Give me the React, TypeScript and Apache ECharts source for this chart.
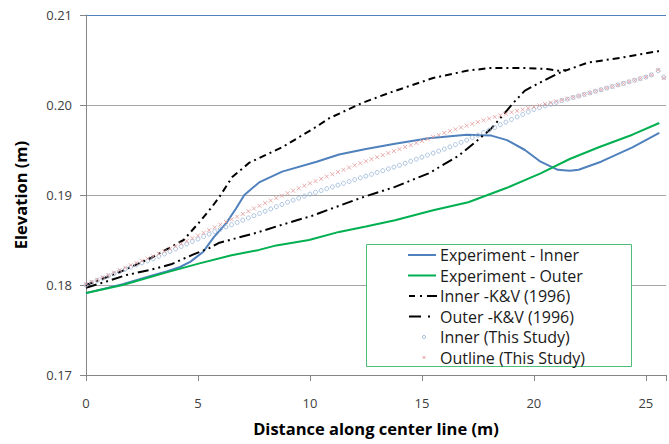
import React, { useEffect, useRef } from "react";
import * as echarts from "echarts";

const xTicks = [0, 5, 10, 15, 20, 25];
const yTicks = [0.17, 0.18, 0.19, 0.2, 0.21];

const expInner: number[][] = [
  [0, 0.1791], [1.64, 0.1801], [3.0, 0.1811], [3.6, 0.1815], [4.2, 0.182], [4.67, 0.1826],
  [5.24, 0.1837], [5.7, 0.1853], [6.27, 0.1869], [6.7, 0.1885], [7.07, 0.19], [7.73, 0.1914],
  [8.76, 0.1926], [10.3, 0.1937], [11.3, 0.1945], [12.5, 0.1951], [13.8, 0.1957], [15.3, 0.1963],
  [17.0, 0.1967], [18.1, 0.1966], [18.8, 0.1961], [19.6, 0.195], [20.3, 0.1937], [21.07, 0.1928],
  [21.6, 0.1927], [22.0, 0.1928], [23.0, 0.1937], [24.4, 0.1953], [25.6, 0.1969],
];

const expOuter: number[][] = [
  [0, 0.1791], [1.64, 0.18], [3.6, 0.1814], [5.07, 0.1824], [6.5, 0.1833], [7.73, 0.1839],
  [8.5, 0.1844], [9.96, 0.185], [11.3, 0.1859], [12.5, 0.1865], [13.8, 0.1872], [15.5, 0.1883],
  [17.07, 0.1892], [18.8, 0.1908], [20.3, 0.1924], [21.6, 0.194], [22.9, 0.1953], [24.4, 0.1967],
  [25.6, 0.198],
];

const innerKV: number[][] = [
  [0, 0.18], [1.38, 0.1813], [2.9, 0.183], [4.36, 0.185], [5.07, 0.187], [5.6, 0.1886],
  [5.96, 0.1898], [6.53, 0.192], [7.3, 0.1936], [8.76, 0.1953], [10.3, 0.1976], [10.84, 0.1985],
  [12.3, 0.2002], [13.6, 0.2014], [15.5, 0.203], [17.0, 0.2038], [18.0, 0.2041], [19.6, 0.2041],
  [20.6, 0.204], [21.1, 0.2038], [21.5, 0.2039], [22.4, 0.2047], [24.0, 0.2053], [25.6, 0.206],
];

const outerKV: number[][] = [
  [0, 0.1797], [0.8, 0.1803], [1.8, 0.1811], [2.9, 0.1817], [3.8, 0.1823], [4.8, 0.1834],
  [5.5, 0.1841], [5.96, 0.1847], [7.6, 0.1858], [8.76, 0.1867], [10.1, 0.1877], [11.2, 0.1887],
  [12.3, 0.1897], [13.8, 0.1909], [15.3, 0.1924], [16.6, 0.1943], [17.4, 0.1959], [18.1, 0.1974],
  [18.8, 0.1994], [19.07, 0.2002], [19.6, 0.2016], [20.2, 0.2024], [21.07, 0.2035], [21.5, 0.2039],
];

const studyX = [
  0, 0.25, 0.5, 0.75, 1, 1.25, 1.5, 1.75, 2, 2.25, 2.5, 2.75, 3, 3.25, 3.5, 3.75, 4, 4.25, 4.5, 4.75,
  5, 5.25, 5.5, 5.75, 6, 6.25, 6.5, 6.75, 7, 7.25, 7.5, 7.75, 8, 8.25, 8.5, 8.75, 9, 9.25, 9.5, 9.75,
  10, 10.25, 10.5, 10.75, 11, 11.25, 11.5, 11.75, 12, 12.25, 12.5, 12.75, 13, 13.25, 13.5, 13.75,
  14, 14.25, 14.5, 14.75, 15, 15.25, 15.5, 15.75, 16, 16.25, 16.5, 16.75, 17, 17.25, 17.5, 17.75,
  18, 18.25, 18.5, 18.75, 19, 19.25, 19.5, 19.75, 20, 20.25, 20.5, 20.75, 21, 21.25, 21.5, 21.75,
  22, 22.25, 22.5, 22.75, 23, 23.25, 23.5, 23.75, 24, 24.25, 24.5, 24.75, 25, 25.25, 25.55, 25.8, 25.95,
];

const outlineStudyY = [
  0.1801, 0.18035, 0.1806, 0.18085, 0.1811, 0.18138, 0.18165, 0.18193, 0.1822, 0.18245, 0.1827, 0.18295,
  0.1832, 0.18348, 0.18375, 0.18403, 0.1843, 0.1846, 0.1849, 0.1852, 0.1855, 0.1858, 0.1861, 0.1864,
  0.1867, 0.187, 0.1873, 0.1876, 0.1879, 0.1882, 0.1885, 0.1888, 0.1891, 0.18938, 0.18965, 0.18993,
  0.1902, 0.19048, 0.19075, 0.19103, 0.1913, 0.19155, 0.1918, 0.19205, 0.1923, 0.19255, 0.1928, 0.19305,
  0.1933, 0.19353, 0.19375, 0.19398, 0.1942, 0.19443, 0.19465, 0.19488, 0.1951, 0.19533, 0.19555, 0.19578,
  0.196, 0.19623, 0.19645, 0.19668, 0.1969, 0.1971, 0.1973, 0.1975, 0.1977, 0.1979, 0.1981, 0.1983,
  0.1985, 0.19868, 0.19885, 0.19903, 0.1992, 0.19935, 0.1995, 0.19965, 0.1998, 0.19995, 0.2001, 0.20025,
  0.2004, 0.20055, 0.2007, 0.20085, 0.201, 0.20118, 0.20135, 0.20153, 0.2017, 0.20188, 0.20205, 0.20223,
  0.2024, 0.20258, 0.20275, 0.20293, 0.2031, 0.20335, 0.2039, 0.203, 0.2037,
];

const innerStudyY = [
  0.18, 0.18025, 0.1805, 0.18075, 0.181, 0.18125, 0.1815, 0.18175, 0.182, 0.18223, 0.18245, 0.18268,
  0.1829, 0.18318, 0.18345, 0.18373, 0.184, 0.18428, 0.18455, 0.18483, 0.1851, 0.18538, 0.18565, 0.18593,
  0.1862, 0.18645, 0.1867, 0.18695, 0.1872, 0.18745, 0.1877, 0.18795, 0.1882, 0.18845, 0.1887, 0.18895,
  0.1892, 0.18943, 0.18965, 0.18988, 0.1901, 0.1903, 0.1905, 0.1907, 0.1909, 0.1911, 0.1913, 0.1915,
  0.1917, 0.1919, 0.1921, 0.1923, 0.1925, 0.1927, 0.1929, 0.1931, 0.1933, 0.19353, 0.19375, 0.19398,
  0.1942, 0.19443, 0.19465, 0.19488, 0.1951, 0.19535, 0.1956, 0.19585, 0.1961, 0.19638, 0.19665, 0.19693,
  0.1972, 0.1975, 0.1978, 0.1981, 0.1984, 0.19868, 0.19895, 0.19923, 0.1995, 0.1997, 0.1999, 0.2001,
  0.2003, 0.20048, 0.20065, 0.20083, 0.201, 0.20118, 0.20135, 0.20153, 0.2017, 0.20188, 0.20205, 0.20223,
  0.2024, 0.20258, 0.20275, 0.20293, 0.2031, 0.20335, 0.2038, 0.2031, 0.2036,
];

const legendLabels = [
  "Experiment - Inner",
  "Experiment - Outer",
  "Inner -K&V (1996)",
  "Outer -K&V (1996)",
  "Inner (This Study)",
  "Outline (This Study)",
];

const BLUE = "#4F81BD";
const GREEN = "#00B050";
const CIRCLE = "#95B3D7";
const CROSS = "#E39A9A";
const FONT = "'Open Sans', 'Noto Sans', sans-serif";
const DASH_DOT = [7, 4, 2, 4];
const LONG_DASH_DOT_DOT = [11, 4, 2, 4, 2, 4];

export default function App() {
  const ref = useRef<HTMLDivElement>(null);

  useEffect(() => {
    if (!ref.current) return;
    const chart = echarts.init(ref.current, undefined, { renderer: "svg" });

    const crossPath = "path://M0,0L10,10M10,0L0,10";
    const rowY = [255, 275.5, 296, 316.5, 337, 357.5];

    const legendGraphics: any[] = [
      {
        type: "rect",
        shape: { x: 366.5, y: 244.5, width: 265, height: 122 },
        style: { fill: "#ffffff", stroke: "#4DBE7A", lineWidth: 1 },
        z: 50,
      },
      { type: "line", shape: { x1: 408, y1: rowY[0], x2: 436, y2: rowY[0] }, style: { stroke: BLUE, lineWidth: 2 }, z: 51 },
      { type: "line", shape: { x1: 408, y1: rowY[1], x2: 436, y2: rowY[1] }, style: { stroke: GREEN, lineWidth: 2 }, z: 51 },
      { type: "line", shape: { x1: 409, y1: rowY[2], x2: 437, y2: rowY[2] }, style: { stroke: "#000", lineWidth: 2, lineDash: [6, 5, 2, 5, 12] }, z: 51 },
      { type: "line", shape: { x1: 409, y1: rowY[3], x2: 437, y2: rowY[3] }, style: { stroke: "#000", lineWidth: 2, lineDash: [12, 7, 2, 20] }, z: 51 },
      { type: "circle", shape: { cx: 424, cy: rowY[4], r: 1.6 }, style: { fill: "none", stroke: CIRCLE, lineWidth: 1 }, z: 51 },
      { type: "line", shape: { x1: 422.5, y1: rowY[5] - 1.5, x2: 425.5, y2: rowY[5] + 1.5 }, style: { stroke: CROSS, lineWidth: 1 }, z: 51 },
      { type: "line", shape: { x1: 425.5, y1: rowY[5] - 1.5, x2: 422.5, y2: rowY[5] + 1.5 }, style: { stroke: CROSS, lineWidth: 1 }, z: 51 },
    ];
    legendLabels.forEach((label, i) => {
      legendGraphics.push({
        type: "text",
        x: 440,
        y: rowY[i],
        style: {
          text: label,
          fill: "#1a1a1a",
          font: `16px ${FONT}`,
          textVerticalAlign: "middle",
          textAlign: "left",
        },
        z: 52,
      });
    });

    chart.setOption({
      animation: false,
      backgroundColor: "#ffffff",
      grid: { left: 86, right: 0, top: 15, bottom: 69, containLabel: false },
      xAxis: {
        type: "value",
        min: 0,
        max: 25.9,
        interval: 5,
        name: "Distance along center line (m)",
        nameLocation: "middle",
        nameGap: 45,
        nameTextStyle: { fontFamily: FONT, fontWeight: "bold", fontSize: 16.5, color: "#000" },
        axisLine: { show: true, lineStyle: { color: "#868686", width: 1 } },
        axisTick: { show: true, length: 6, lineStyle: { color: "#868686" } },
        axisLabel: {
          margin: 21,
          fontFamily: FONT,
          fontSize: 13,
          color: "#404040",
          formatter: (v: number) => (xTicks.includes(Math.round(v * 100) / 100) ? String(v) : ""),
        },
        splitLine: { show: false },
      },
      yAxis: {
        type: "value",
        min: 0.17,
        max: 0.21,
        interval: 0.01,
        name: "Elevation (m)",
        nameLocation: "middle",
        nameGap: 57,
        nameTextStyle: { fontFamily: FONT, fontWeight: "bold", fontSize: 16.5, color: "#000" },
        axisLine: { show: true, lineStyle: { color: "#868686", width: 1 } },
        axisTick: { show: true, length: 6, lineStyle: { color: "#868686" } },
        axisLabel: {
          margin: 14,
          fontFamily: FONT,
          fontSize: 13,
          color: "#404040",
          formatter: (v: number) => {
            const r = Math.round(v * 100) / 100;
            return yTicks.includes(r) ? r.toFixed(2) : "";
          },
        },
        splitLine: {
          show: true,
          lineStyle: { color: ["#A6A6A6", "#A6A6A6", "#A6A6A6", "#A6A6A6", BLUE], width: 1 },
        },
      },
      graphic: legendGraphics,
      series: [
        {
          name: legendLabels[0],
          type: "line",
          data: expInner,
          showSymbol: false,
          symbol: "none",
          lineStyle: { color: BLUE, width: 2 },
          z: 3,
        },
        {
          name: legendLabels[1],
          type: "line",
          data: expOuter,
          showSymbol: false,
          symbol: "none",
          lineStyle: { color: GREEN, width: 2 },
          z: 3,
        },
        {
          name: legendLabels[2],
          type: "line",
          data: innerKV,
          showSymbol: false,
          symbol: "none",
          lineStyle: { color: "#000", width: 2, type: DASH_DOT },
          z: 3,
        },
        {
          name: legendLabels[3],
          type: "line",
          data: outerKV,
          showSymbol: false,
          symbol: "none",
          lineStyle: { color: "#000", width: 2, type: LONG_DASH_DOT_DOT },
          z: 3,
        },
        {
          name: legendLabels[4],
          type: "scatter",
          data: studyX.map((x, i) => [x, innerStudyY[i]]),
          symbol: "circle",
          symbolSize: 4,
          itemStyle: { color: "rgba(255,255,255,0)", borderColor: CIRCLE, borderWidth: 1 },
          z: 4,
        },
        {
          name: legendLabels[5],
          type: "scatter",
          data: studyX.map((x, i) => [x, outlineStudyY[i]]),
          symbol: crossPath,
          symbolSize: 4,
          itemStyle: { color: "rgba(255,255,255,0)", borderColor: CROSS, borderWidth: 1 },
          z: 4,
        },
      ],
    });

    return () => chart.dispose();
  }, []);

  return (
    <div
      ref={ref}
      style={{ position: "fixed", left: 0, top: 0, width: 669, height: 444 }}
    />
  );
}
